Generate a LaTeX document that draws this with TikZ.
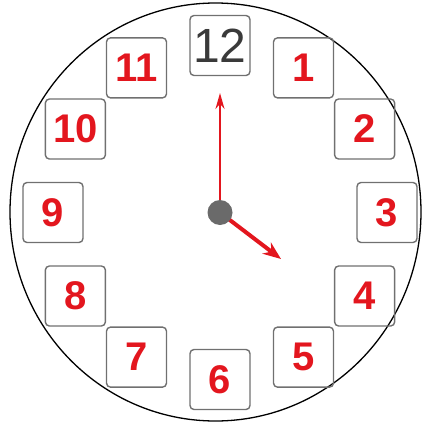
\documentclass[tikz,border=0pt]{standalone}
\usepackage{fontspec}
\setmainfont{Liberation Sans}
\usetikzlibrary{arrows.meta,shapes.geometric,calc}
\definecolor{numred}{HTML}{E3161E}
\definecolor{boxgray}{HTML}{707070}
\definecolor{dotgray}{HTML}{6A6A6A}
\definecolor{twelvegray}{HTML}{3A3A3A}
\tikzset{
  numbox/.style={draw=boxgray, line width=1.4pt, rounded corners=4pt,
    minimum width=60pt, minimum height=60pt, inner sep=0pt,
    text=numred, font=\bfseries\fontsize{40}{40}\selectfont},
  twelvebox/.style={numbox, text=twelvegray, font=\fontsize{48}{48}\selectfont},
  hand/.style={draw=numred, line cap=butt}
}
\begin{document}
\begin{tikzpicture}[x=1pt,y=-1pt]
\useasboundingbox (0,0) rectangle (422,426);
\node[draw=black, line width=1.3pt, ellipse, minimum width=411pt, minimum height=418pt, inner sep=0pt] (face) at (215.5,212) {};
\coordinate (c) at (220,212.5);
\foreach \k in {1,...,11}{
  \node[numbox] (n\k) at ($(c)+({167*sin(30*\k)},{-167*cos(30*\k)})$) {\k};
}
\node[twelvebox] (n12) at ($(c)+(0,-167)$) {12};
\coordinate (mtip) at (220,93);
\coordinate (htip) at (281,259);
\draw[hand, line width=2pt, -{Stealth[length=16pt,width=9pt]}] (c) -- (mtip);
\draw[hand, line width=4pt, -{Stealth[length=18pt,width=14pt]}] (c) -- (htip);
\fill[dotgray] (c) circle[radius=12.5pt];
\end{tikzpicture}
\end{document}
